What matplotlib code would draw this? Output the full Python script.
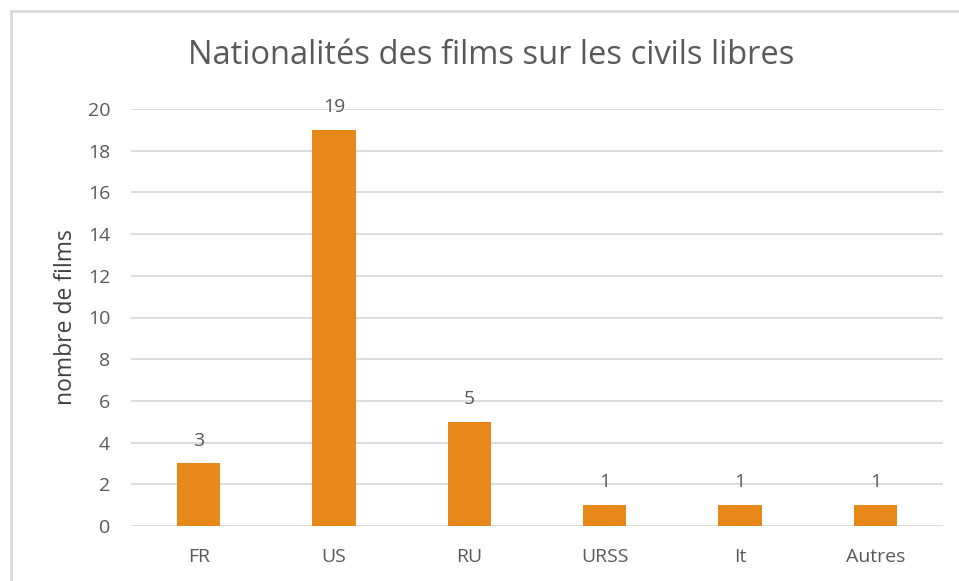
import matplotlib.pyplot as plt
from matplotlib.lines import Line2D

plt.rcParams['font.family'] = ['Open Sans', 'DejaVu Sans']

# film counts per nationality
pays = ['FR', 'US', 'RU', 'URSS', 'It', 'Autres']
nb_films = [3, 19, 5, 1, 1, 1]
yticks = list(range(0, 21, 2))

W, H = 959, 581
fig = plt.figure(figsize=(W / 100, H / 100), dpi=100)
ax = fig.add_axes([131 / W, 1 - 526 / H, (943 - 131) / W, (526 - 109) / H])

texte = '#595959'
grille = '#D9D9D9'

x = list(range(len(pays)))
bars = ax.bar(x, nb_films, width=0.32, color='#E8871A', zorder=3)
for b, v in zip(bars, nb_films):
    ax.annotate(str(v), (b.get_x() + b.get_width() / 2, v),
                xytext=(0, 10), textcoords='offset points',
                ha='center', va='bottom', fontsize=14, color=texte)

ax.set_xlim(-0.5, len(pays) - 0.5)
ax.set_ylim(0, 20)
ax.set_yticks(yticks)
ax.set_xticks(x)
ax.set_xticklabels(pays)
ax.yaxis.grid(True, color=grille, linewidth=1.3, zorder=0)
ax.tick_params(axis='both', length=0, labelsize=14, labelcolor=texte)
ax.tick_params(axis='x', pad=16)
ax.tick_params(axis='y', pad=15)
for s in ax.spines.values():
    s.set_visible(False)

ax.set_ylabel('nombre de films', fontsize=16.5, color='#404040', labelpad=7)
fig.text(491 / W, 1 - 55 / H, 'Nationalités des films sur les civils libres',
         ha='center', va='center', fontsize=23.5, color=texte)

# chart frame: only the left and top edges are visible
fx, fy = 10.5 / W, 1 - 10.5 / H
fig.add_artist(Line2D([fx, fx], [0, fy], transform=fig.transFigure, color=grille, lw=2))
fig.add_artist(Line2D([fx, 1], [fy, fy], transform=fig.transFigure, color=grille, lw=2))

fig.savefig('out.png', dpi=100, facecolor='white')
